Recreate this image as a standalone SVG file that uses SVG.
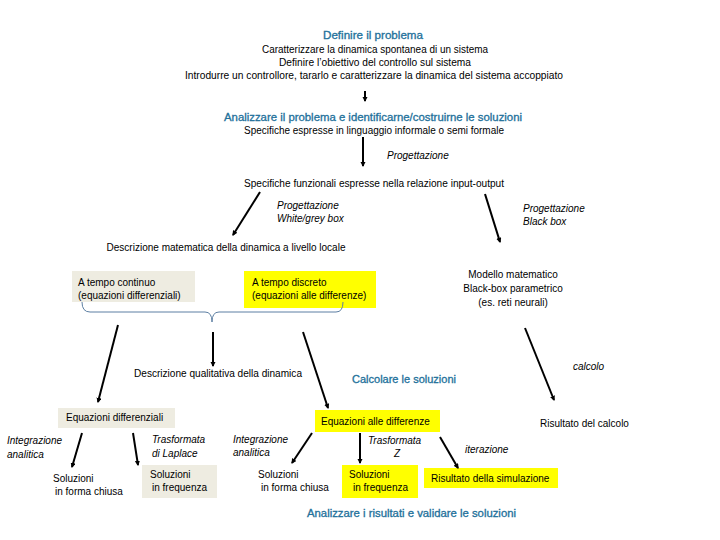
<svg xmlns="http://www.w3.org/2000/svg" width="720" height="540" viewBox="0 0 720 540">
<defs>
<style>
text{font-family:"Liberation Sans",Arial,sans-serif;font-size:10px;fill:#000}
.h{fill:#23719b;font-size:10.5px;stroke:#23719b;stroke-width:0.3}
.i{font-style:italic}
.m{text-anchor:middle}
.gray{fill:#eeece1}
.yel{fill:#ffff00}
.ar{stroke:#000;stroke-width:2;fill:none;marker-end:url(#ah)}
.br{stroke:#5d7fa3;stroke-width:1;fill:none}
</style>
<marker id="ah" viewBox="0 0 10 10" refX="8" refY="5" markerWidth="2.6" markerHeight="2.6" orient="auto" markerUnits="strokeWidth">
<path d="M0,0 L10,5 L0,10 z" fill="#000"/>
</marker>
</defs>
<rect width="720" height="540" fill="#fff"/>

<g id="definire">
<text class="h m" x="373" y="39" textLength="100" lengthAdjust="spacingAndGlyphs">Definire il problema</text>
<text class="m" x="375" y="53" textLength="226" lengthAdjust="spacingAndGlyphs">Caratterizzare la dinamica spontanea di un sistema</text>
<text class="m" x="375" y="66" textLength="192" lengthAdjust="spacingAndGlyphs">Definire l’obiettivo del controllo sul sistema</text>
<text class="m" x="374" y="79" textLength="378" lengthAdjust="spacingAndGlyphs">Introdurre un controllore, tararlo e caratterizzare la dinamica del sistema accoppiato</text>
</g>

<g id="analizzare">
<text class="h m" x="373" y="121" textLength="298" lengthAdjust="spacingAndGlyphs">Analizzare il problema e identificarne/costruirne le soluzioni</text>
<text class="m" x="374" y="134" textLength="260" lengthAdjust="spacingAndGlyphs">Specifiche espresse in linguaggio informale o semi formale</text>
</g>

<g id="specifiche-funzionali">
<text class="m" x="374" y="187" textLength="260" lengthAdjust="spacingAndGlyphs">Specifiche funzionali espresse nella relazione input-output</text>
</g>

<g id="descr-matematica">
<text class="m" x="226" y="251" textLength="239" lengthAdjust="spacingAndGlyphs">Descrizione matematica della dinamica a livello locale</text>
</g>

<g id="tempo-continuo">
<rect class="gray" x="72" y="271" width="123" height="31"/>
<text x="78" y="286">A tempo continuo</text>
<text x="78" y="299">(equazioni  differenziali)</text>
</g>

<g id="tempo-discreto">
<rect class="yel" x="244" y="271" width="132" height="37"/>
<text x="252" y="286">A tempo discreto</text>
<text x="252" y="299">(equazioni alle differenze)</text>
</g>

<g id="modello-blackbox">
<text class="m" x="513" y="278">Modello matematico</text>
<text class="m" x="513" y="292">Black-box parametrico</text>
<text class="m" x="513" y="306">(es. reti neurali)</text>
</g>

<g id="descr-qualitativa">
<text x="134" y="377" textLength="168" lengthAdjust="spacingAndGlyphs">Descrizione qualitativa della dinamica</text>
</g>

<g id="calcolare">
<text class="h" x="352" y="383" textLength="104" lengthAdjust="spacingAndGlyphs">Calcolare le soluzioni</text>
</g>

<g id="eq-differenziali">
<rect class="gray" x="58" y="408" width="117" height="20"/>
<text x="66" y="421">Equazioni differenziali</text>
</g>

<g id="eq-differenze">
<rect class="yel" x="315" y="410" width="125" height="22"/>
<text x="321" y="425">Equazioni alle differenze</text>
</g>

<g id="risultato-calcolo">
<text x="540" y="427">Risultato del calcolo</text>
</g>

<g id="sol-chiusa-1">
<text x="53" y="482">Soluzioni</text>
<text x="55" y="495"> in forma chiusa</text>
</g>

<g id="sol-freq-1">
<rect class="gray" x="142" y="465" width="75" height="33"/>
<text x="150" y="478">Soluzioni</text>
<text x="152" y="491">in frequenza</text>
</g>

<g id="sol-chiusa-2">
<text x="258" y="478">Soluzioni</text>
<text x="261" y="491">in forma chiusa</text>
</g>

<g id="sol-freq-2">
<rect class="yel" x="342" y="465" width="76" height="33"/>
<text x="349" y="478">Soluzioni</text>
<text x="353" y="491">in frequenza</text>
</g>

<g id="risultato-simulazione">
<rect class="yel" x="424" y="468" width="134" height="20"/>
<text x="431" y="482">Risultato della simulazione</text>
</g>

<g id="analizzare-risultati">
<text class="h" x="307" y="517" textLength="209" lengthAdjust="spacingAndGlyphs">Analizzare i risultati e validare le soluzioni</text>
</g>

<g id="connectors">
<path class="ar" d="M365,91 L365,101"/>
<path class="ar" d="M363,137 L363,166"/>
<path class="ar" d="M260,192 L233,235"/>
<path class="ar" d="M485,194 L500,242"/>
<path class="br" d="M82,302 Q82,312 90,312 L205,312 Q212,312 212,322 Q212,312 219,312 L336,312 Q343,312 343,302"/>
<path class="ar" d="M118,325 L98,402"/>
<path class="ar" d="M213,332 L213,366"/>
<path class="ar" d="M303,332 L328,408"/>
<path class="ar" d="M525,328 L554,400"/>
<path class="ar" d="M82,433 L72,467"/>
<path class="ar" d="M133,433 L138,465"/>
<path class="ar" d="M312,433 L292,463"/>
<path class="ar" d="M360,433 L360,463"/>
<path class="ar" d="M440,437 L458,468"/>
</g>

<g id="labels">
<text class="i" x="387" y="159">Progettazione</text>
<text class="i" x="277" y="209">Progettazione</text>
<text class="i" x="277" y="222">White/grey box</text>
<text class="i" x="523" y="212">Progettazione</text>
<text class="i" x="523" y="225">Black box</text>
<text class="i" x="573" y="370">calcolo</text>
<text class="i" x="7" y="444">Integrazione</text>
<text class="i" x="7" y="458">analitica</text>
<text class="i" x="152" y="443">Trasformata</text>
<text class="i" x="152" y="457">di Laplace</text>
<text class="i" x="233" y="443">Integrazione</text>
<text class="i" x="233" y="456">analitica</text>
<text class="i" x="368" y="444">Trasformata</text>
<text class="i m" x="397" y="457">Z</text>
<text class="i" x="465" y="453">iterazione</text>
</g>
</svg>
